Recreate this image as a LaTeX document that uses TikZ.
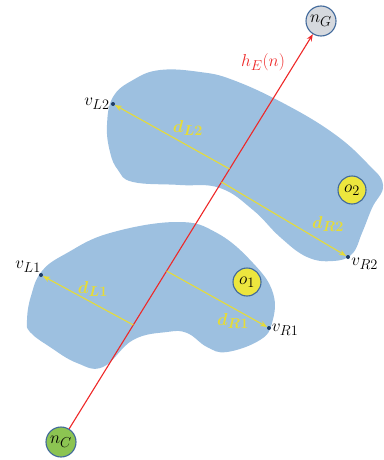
\documentclass[tikz,border=0pt]{standalone}
\usepackage{amsmath}
\usetikzlibrary{arrows.meta}
\definecolor{blobblue}{RGB}{157,192,224}
\definecolor{edgeblue}{RGB}{65,105,155}
\definecolor{goalgray}{RGB}{214,217,222}
\definecolor{startgreen}{RGB}{140,196,82}
\definecolor{obsyellow}{RGB}{236,230,62}
\definecolor{distyellow}{RGB}{230,220,55}
\definecolor{linered}{RGB}{238,40,40}
\definecolor{dotblue}{RGB}{30,60,100}
\begin{document}
\begin{tikzpicture}[x=1pt, y=-1pt, >={Stealth[length=7pt, width=5.5pt]},
    state/.style={circle, draw=edgeblue, line width=1.1pt, minimum size=30pt, inner sep=0pt, font=\fontsize{19}{22}\selectfont},
    vert/.style={circle, fill=dotblue, inner sep=0pt, minimum size=4pt},
    dist/.style={draw=distyellow, line width=1.1pt, ->},
    dlabel/.style={text=distyellow, font=\fontsize{19}{22}\selectfont},
    vlabel/.style={font=\fontsize{19}{22}\selectfont}]
  \useasboundingbox (0,0) rectangle (383,460);
  % 1. 障碍物区域 (最底层)
  \fill[blobblue] plot[smooth cycle, tension=0.7] coordinates {
    (107,125) (113,97) (133,80) (160,70) (200,72) (233,80) (283,103) (333,133)
    (367,163) (383,185) (372,208) (362,233) (352,254) (333,261) (307,257)
    (280,237) (253,210) (220,188) (180,185) (133,182) (118,170) (110,152)};
  \fill[blobblue] plot[smooth cycle, tension=0.7] coordinates {
    (27,320) (31,296) (42,271) (67,253) (110,233) (177,222) (217,233) (253,263)
    (273,293) (272,323) (260,340) (227,352) (207,347) (187,333) (167,332)
    (133,340) (103,367) (77,363) (50,347) (30,332)};
  \node[state, fill=obsyellow, minimum size=28pt] (o1) at (247,282) {$o_1$};
  \node[state, fill=obsyellow, minimum size=28pt] (o2) at (352,190) {$o_2$};

  % 2. 起点与终点
  \node[state, fill=goalgray] (nG) at (321,21) {$n_G$};
  \node[state, fill=startgreen] (nC) at (61,442) {$n_C$};
  \draw[linered, line width=1.1pt, ->] (nC) -- (nG);
  \node[text=linered, font=\fontsize{19}{22}\selectfont] (hE) at (263,62) {$h_E(n)$};

  % 3. 端点
  \node[vert] (vL2) at (113,104) {};
  \node[vert] (vR2) at (348,257) {};
  \node[vert] (vL1) at (41,275) {};
  \node[vert] (vR1) at (269,328) {};
  \node[vlabel, left, inner sep=1pt] (tL2) at (vL2.west) {$v_{L2}$};
  \node[vlabel, below right, inner sep=1pt] (tR2) at (vR2.east) {$v_{R2}$};
  \node[vlabel, above left, inner sep=0pt] (tL1) at (vL1.north) {$v_{L1}$};
  \node[vlabel, right, inner sep=1pt] (tR1) at (vR1.south east) {$v_{R1}$};

  % 4. 距离线
  \coordinate (fL2) at (229.6,169);
  \coordinate (fR2) at (221.5,182);
  \coordinate (fL1) at (133.3,325);
  \coordinate (fR1) at (166.6,271);
  \draw[dist] (fL2) -- (vL2);
  \draw[dist] (fR2) -- (vR2);
  \draw[dist] (fL1) -- (vL1);
  \draw[dist] (fR1) -- (vR1);
  \node[dlabel] (dL2) at (188,128) {$\boldsymbol{d_{L2}}$};
  \node[dlabel] (dR2) at (328,224) {$\boldsymbol{d_{R2}}$};
  \node[dlabel] (dL1) at (93,289) {$\boldsymbol{d_{L1}}$};
  \node[dlabel] (dR1) at (233,321) {$\boldsymbol{d_{R1}}$};
\end{tikzpicture}
\end{document}
